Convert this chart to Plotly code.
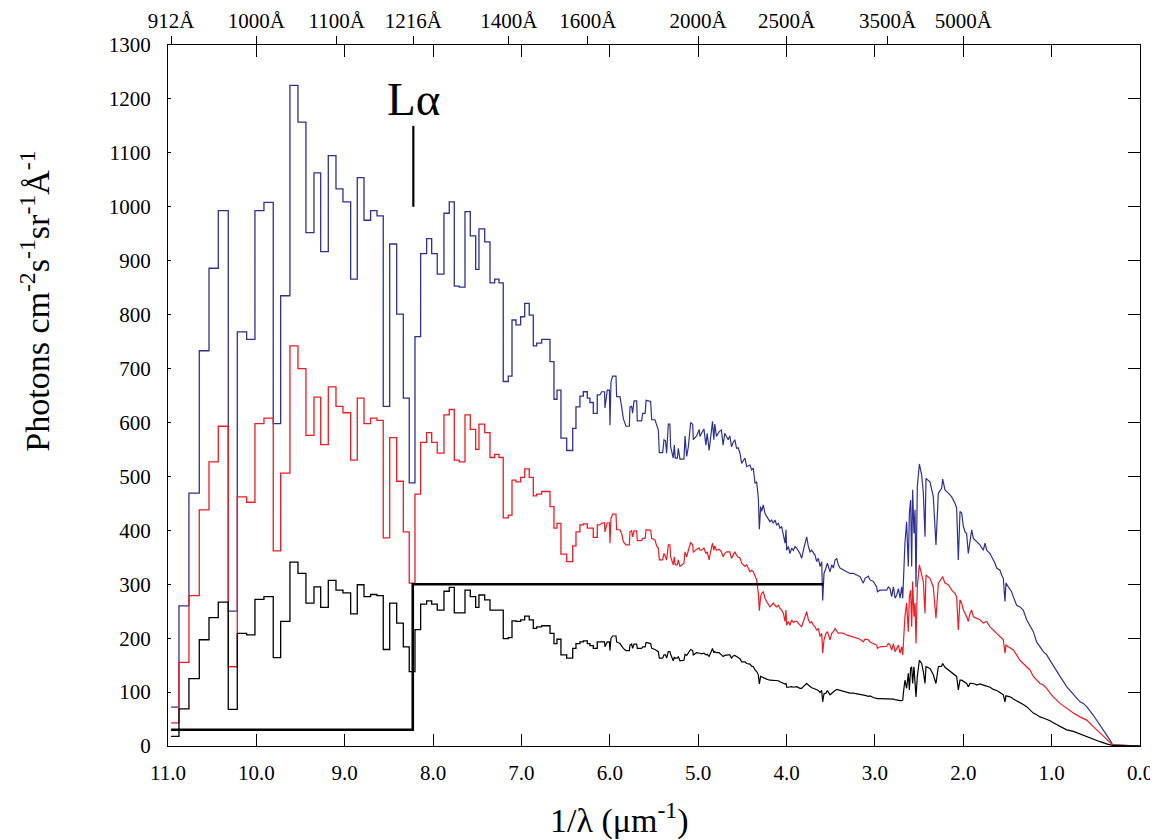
import plotly.graph_objects as go

# ---------------- data ----------------
# Far-UV part: 10 A bins, bin start edges in 1/lambda (um^-1), values in photons cm^-2 s^-1 sr^-1 A^-1
fuv_wavenumber = [10.965, 10.876, 10.763, 10.646, 10.536, 10.431, 10.318, 10.216, 10.110, 10.016,
                  9.914, 9.809, 9.725, 9.620, 9.529, 9.439, 9.348, 9.272, 9.186, 9.099,
                  9.020, 8.933, 8.858, 8.782, 8.707, 8.635, 8.564, 8.491, 8.412, 8.337,
                  8.270, 8.205, 8.141, 8.073, 8.016, 7.953, 7.877, 7.817, 7.760, 7.704,
                  7.639, 7.579, 7.518, 7.481, 7.416, 7.356, 7.303, 7.254, 7.206, 7.149,
                  7.107, 7.062, 7.009, 6.963, 6.912, 6.866, 6.828, 6.771, 6.677, 6.632,
                  6.598, 6.553, 6.488, 6.420, 6.383, 6.338, 6.300, 6.255, 6.225, 6.187,
                  6.142]
fuv_blue = [72, 260, 469, 733, 886, 993, 250, 768, 754, 993,
            1008, 598, 835, 1225, 1157, 952, 1063, 917, 1095, 1033,
            1009, 866, 1054, 975, 993, 983, 630, 931, 801, 645,
            488, 759, 913, 941, 913, 875, 988, 1009, 853, 851,
            991, 946, 884, 959, 935, 859, 866, 859, 676, 686,
            790, 781, 796, 821, 799, 742, 747, 754, 713, 643,
            660, 571, 548, 589, 629, 649, 657, 645, 637, 617,
            651]
fuv_red = [43, 155, 279, 438, 527, 593, 147, 462, 452, 598,
           608, 362, 506, 742, 700, 576, 647, 559, 666, 630,
           618, 530, 645, 598, 608, 604, 386, 572, 491, 397,
           302, 467, 563, 581, 563, 543, 614, 624, 530, 527,
           614, 587, 550, 597, 581, 535, 541, 535, 423, 428,
           493, 490, 498, 514, 498, 464, 467, 472, 444, 404,
           413, 356, 342, 371, 397, 410, 412, 404, 404, 387,
           410]
fuv_black = [18, 69, 125, 197, 238, 267, 68, 209, 206, 272,
             277, 164, 231, 341, 320, 265, 295, 257, 307, 289,
             284, 245, 299, 277, 281, 279, 179, 265, 228, 184,
             138, 216, 263, 269, 263, 252, 287, 294, 247, 247,
             289, 277, 257, 280, 271, 252, 252, 252, 199, 201,
             232, 231, 234, 241, 234, 218, 221, 223, 209, 190,
             198, 169, 163, 181, 190, 193, 195, 190, 186, 181,
             193]

# Near-UV / optical part: finely sampled spectrum
nuv_wavenumber = [6.112, 6.093, 6.06, 6.055, 6.029, 6.005, 5.998, 5.987, 5.968, 5.93,
                  5.923, 5.885, 5.866, 5.847, 5.817, 5.779, 5.772, 5.753, 5.742, 5.726,
                  5.696, 5.689, 5.64, 5.628, 5.6, 5.59, 5.538, 5.526, 5.489, 5.47,
                  5.451, 5.44, 5.402, 5.387, 5.37, 5.357, 5.338, 5.32, 5.312, 5.282,
                  5.27, 5.259, 5.236, 5.225, 5.206, 5.161, 5.149, 5.13, 5.111, 5.085,
                  5.062, 5.055, 5.018, 4.988, 4.98, 4.962, 4.935, 4.913, 4.898, 4.876,
                  4.86, 4.838, 4.823, 4.812, 4.793, 4.763, 4.737, 4.718, 4.699, 4.68,
                  4.661, 4.642, 4.623, 4.604, 4.585, 4.566, 4.547, 4.527, 4.508, 4.47,
                  4.451, 4.414, 4.395, 4.376, 4.357, 4.338, 4.319, 4.308, 4.293, 4.282,
                  4.263, 4.244, 4.225, 4.188, 4.169, 4.15, 4.131, 4.112, 4.093, 4.074,
                  4.055, 4.036, 4.017, 4.006, 3.999, 3.98, 3.961, 3.942, 3.923, 3.904,
                  3.885, 3.848, 3.829, 3.81, 3.791, 3.772, 3.753, 3.734, 3.716, 3.697,
                  3.678, 3.659, 3.64, 3.621, 3.602, 3.591, 3.576, 3.554, 3.538, 3.508,
                  3.489, 3.47, 3.451, 3.432, 3.414, 3.395, 3.357, 3.319, 3.282, 3.244,
                  3.206, 3.168, 3.131, 3.112, 3.074, 3.055, 3.018, 2.98, 2.972, 2.942,
                  2.867, 2.848, 2.829, 2.81, 2.791, 2.772, 2.753, 2.734, 2.715, 2.697,
                  2.685, 2.678, 2.66, 2.641, 2.622, 2.61, 2.596, 2.584, 2.573, 2.558,
                  2.546, 2.535, 2.52, 2.497, 2.471, 2.452, 2.433, 2.422, 2.377, 2.339,
                  2.309, 2.282, 2.245, 2.233, 2.207, 2.169, 2.131, 2.094, 2.075, 2.056,
                  2.037, 2.018, 1.999, 1.98, 1.962, 1.943, 1.924, 1.905, 1.886, 1.867,
                  1.848, 1.811, 1.773, 1.754, 1.735, 1.697, 1.66, 1.641, 1.622, 1.585,
                  1.566, 1.547, 1.528, 1.517, 1.49, 1.453, 1.434, 1.396, 1.358, 1.321,
                  1.283, 1.245, 1.207, 1.17, 1.132, 1.094, 1.056, 1.018, 0.981, 0.905,
                  0.83, 0.754, 0.679, 0.641, 0.603, 0.528, 0.452, 0.377, 0.339, 0.309,
                  0.0]
nuv_blue = [651, 657, 657, 627, 660, 660, 595, 675, 686, 686,
            648, 648, 629, 607, 593, 593, 629, 630, 617, 640,
            640, 603, 603, 617, 617, 641, 639, 605, 605, 593,
            586, 544, 544, 568, 566, 543, 597, 597, 555, 534,
            558, 534, 534, 552, 532, 532, 575, 537, 555, 600,
            596, 568, 575, 587, 574, 580, 588, 558, 580, 548,
            575, 602, 568, 597, 574, 583, 586, 558, 580, 574,
            568, 575, 555, 563, 568, 552, 553, 543, 524, 534,
            518, 521, 512, 515, 487, 490, 459, 402, 444, 435,
            447, 431, 425, 416, 419, 413, 419, 410, 413, 404,
            407, 391, 376, 401, 363, 370, 357, 367, 363, 370,
            367, 357, 348, 363, 376, 388, 370, 360, 363, 357,
            354, 342, 348, 333, 342, 270, 320, 330, 339, 323,
            336, 330, 345, 348, 336, 330, 326, 323, 320, 320,
            317, 314, 302, 311, 315, 308, 305, 295, 286, 289,
            289, 295, 292, 277, 295, 274, 280, 292, 274, 295,
            274, 302, 376, 416, 333, 432, 456, 333, 475, 394,
            438, 295, 481, 523, 503, 469, 388, 496, 490, 462,
            373, 469, 478, 495, 475, 469, 462, 450, 441, 345,
            435, 432, 407, 397, 394, 357, 382, 401, 385, 382,
            379, 373, 363, 376, 363, 357, 345, 339, 330, 326,
            317, 311, 268, 302, 295, 286, 277, 261, 258, 252,
            234, 224, 212, 193, 184, 175, 169, 159, 147, 129,
            110, 95, 82, 79, 73, 57, 39, 20, 11, 2,
            0]
nuv_red = [410, 413, 414, 397, 414, 414, 376, 422, 430, 430,
           401, 401, 394, 379, 373, 373, 397, 399, 388, 399,
           399, 381, 381, 385, 385, 401, 400, 385, 382, 371,
           367, 345, 345, 357, 351, 345, 373, 373, 351, 336,
           351, 336, 336, 345, 333, 339, 360, 351, 363, 377,
           373, 359, 365, 367, 363, 363, 367, 357, 360, 345,
           360, 376, 363, 371, 363, 365, 360, 351, 357, 360,
           360, 360, 348, 355, 360, 354, 350, 349, 339, 333,
           336, 323, 326, 323, 314, 308, 283, 251, 277, 283,
           286, 274, 268, 258, 261, 265, 261, 258, 261, 255,
           252, 246, 231, 252, 224, 231, 224, 234, 229, 231,
           231, 224, 221, 231, 240, 249, 234, 228, 231, 224,
           221, 215, 218, 203, 209, 172, 197, 209, 212, 197,
           209, 212, 218, 212, 209, 210, 209, 206, 204, 203,
           200, 198, 193, 198, 197, 193, 190, 187, 181, 184,
           185, 190, 187, 178, 190, 175, 181, 187, 172, 184,
           169, 190, 240, 265, 212, 277, 289, 221, 305, 240,
           265, 190, 295, 336, 317, 305, 246, 317, 311, 295,
           237, 302, 311, 314, 302, 299, 289, 283, 277, 215,
           271, 265, 252, 246, 240, 231, 246, 252, 240, 238,
           237, 234, 228, 229, 231, 221, 215, 212, 209, 203,
           200, 197, 172, 187, 184, 181, 178, 169, 159, 153,
           147, 141, 129, 122, 116, 113, 107, 98, 91, 79,
           70, 61, 54, 51, 48, 36, 24, 11, 6, 2,
           0]
nuv_black = [193, 193, 193, 184, 193, 193, 177, 200, 204, 204,
             193, 190, 185, 181, 177, 177, 187, 189, 181, 189,
             189, 181, 181, 184, 184, 192, 190, 181, 179, 177,
             175, 163, 163, 169, 169, 163, 175, 175, 170, 158,
             165, 163, 163, 166, 158, 159, 170, 168, 172, 179,
             177, 169, 173, 173, 172, 171, 172, 169, 170, 166,
             172, 181, 173, 175, 173, 173, 169, 166, 168, 169,
             169, 169, 163, 167, 168, 166, 164, 162, 156, 156,
             153, 152, 148, 147, 141, 138, 132, 115, 129, 128,
             126, 125, 124, 122, 122, 121, 121, 122, 121, 119,
             118, 116, 115, 116, 109, 109, 110, 110, 109, 109,
             110, 107, 107, 110, 113, 116, 113, 110, 108, 107,
             106, 104, 103, 99, 103, 82, 97, 98, 103, 95,
             98, 101, 103, 105, 104, 103, 102, 99, 98, 98,
             97, 96, 95, 94, 92, 93, 90, 88, 88, 88,
             88, 88, 88, 88, 87, 86, 85, 85, 84, 84,
             85, 98, 122, 107, 135, 104, 144, 147, 116, 147,
             122, 91, 129, 159, 153, 138, 116, 147, 144, 132,
             116, 147, 148, 153, 146, 141, 136, 132, 129, 104,
             122, 122, 120, 118, 116, 110, 116, 116, 116, 115,
             113, 115, 113, 112, 110, 109, 105, 104, 103, 99,
             97, 95, 82, 93, 92, 90, 87, 84, 80, 77,
             73, 67, 61, 58, 54, 52, 50, 47, 43, 36,
             30, 27, 22, 20, 17, 12, 8, 4, 2, 1,
             0]

# Reference threshold step (thick black)
threshold_wavenumber = [10.965, 8.23, 3.58]
threshold_value = [30, 300, 300]

# Lyman-alpha marker
lya_wavenumber = 1e4 / 1216.0
lya_marker = [1000, 1150]
lya_label_y = 1200

# Top axis: wavelengths in Angstrom
top_wavelengths = [912, 1000, 1100, 1216, 1400, 1600, 2000, 2500, 3500, 5000]

# ---------------- figure ----------------
FONT = "Liberation Serif"
BLUE = "#2e3192"
RED = "#ed1c24"
BLACK = "#000000"

fig = go.Figure()

series = [(fuv_blue, nuv_blue, BLUE), (fuv_red, nuv_red, RED), (fuv_black, nuv_black, BLACK)]
for fuv_vals, nuv_vals, col in series:
    fig.add_trace(go.Scatter(
        x=fuv_wavenumber + [nuv_wavenumber[0]], y=fuv_vals + [nuv_vals[0]],
        mode="lines", line=dict(color=col, width=1.3, shape="hv"), showlegend=False))
    fig.add_trace(go.Scatter(
        x=nuv_wavenumber, y=nuv_vals,
        mode="lines", line=dict(color=col, width=1.2), showlegend=False))

fig.add_trace(go.Scatter(
    x=threshold_wavenumber, y=threshold_value, mode="lines",
    line=dict(color=BLACK, width=2.6, shape="hv"), showlegend=False))

# Lyman alpha tick
fig.add_trace(go.Scatter(
    x=[lya_wavenumber, lya_wavenumber], y=lya_marker, mode="lines",
    line=dict(color=BLACK, width=2.2), showlegend=False))

# dummy trace to activate secondary axes
fig.add_trace(go.Scatter(x=[None], y=[None], xaxis="x2", yaxis="y2", showlegend=False))

fig.add_annotation(x=lya_wavenumber, y=lya_label_y, xref="x", yref="y",
                   text="L\u03b1", showarrow=False,
                   font=dict(family=FONT, size=47, color=BLACK),
                   xanchor="center", yanchor="middle")

fig.add_annotation(x=-0.137, y=0.635, xref="paper", yref="paper",
                   text="Photons cm<sup>-2</sup>s<sup>-1</sup>sr<sup>-1</sup>\u00c5<sup>-1</sup>",
                   textangle=-90, showarrow=False,
                   font=dict(family=FONT, size=34, color=BLACK),
                   xanchor="center", yanchor="middle")

fig.add_annotation(x=0.465, y=-0.103, xref="paper", yref="paper",
                   text="1/\u03bb (\u03bcm<sup>-1</sup>)", showarrow=False,
                   font=dict(family=FONT, size=34, color=BLACK),
                   xanchor="center", yanchor="middle")

tickfont = dict(family=FONT, size=21, color=BLACK)

fig.update_layout(
    width=1158, height=840,
    margin=dict(l=160, r=26, t=37, b=102, autoexpand=False),
    paper_bgcolor="white", plot_bgcolor="white",
    showlegend=False,
    xaxis=dict(range=[11, 0], tickmode="linear", tick0=0, dtick=1, tickformat=".1f",
               ticks="inside", ticklen=12, tickwidth=1, tickcolor=BLACK,
               showline=True, linecolor=BLACK, linewidth=1.2, mirror="ticks",
               showgrid=False, zeroline=False, tickfont=tickfont, ticklabelstandoff=8,
               automargin=False),
    xaxis2=dict(range=[11, 0], overlaying="x", side="top",
                tickmode="array", tickvals=[1e4 / w for w in top_wavelengths],
                ticktext=[f"{w}\u00c5" for w in top_wavelengths],
                ticks="outside", ticklen=8, tickwidth=1, tickcolor=BLACK,
                showline=False, showgrid=False, zeroline=False, tickfont=tickfont,
                automargin=False),
    yaxis=dict(range=[0, 1300], tickmode="linear", tick0=0, dtick=100,
               ticks="inside", ticklen=3, tickwidth=1, tickcolor=BLACK,
               showline=True, linecolor=BLACK, linewidth=1.2, mirror=True,
               showgrid=False, zeroline=False, tickfont=tickfont, ticklabelstandoff=12,
               automargin=False),
    yaxis2=dict(range=[0, 1300], overlaying="y", side="right", tickmode="linear",
                tick0=0, dtick=100, ticks="inside", ticklen=12, tickwidth=1, tickcolor=BLACK,
                showticklabels=False, showline=False, showgrid=False, zeroline=False,
                automargin=False),
)

fig.write_html("out.html")
